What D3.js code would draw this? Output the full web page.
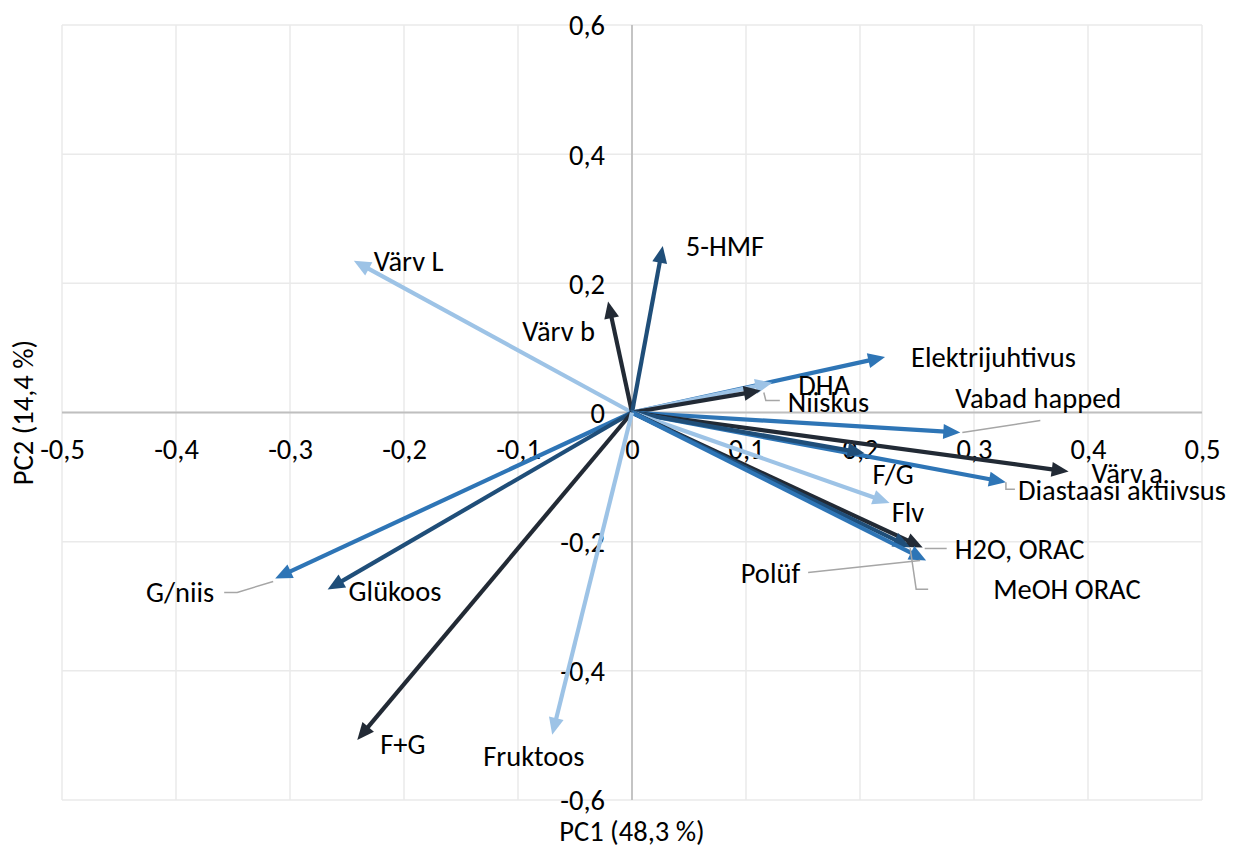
<!DOCTYPE html>
<html>
<head>
<meta charset="utf-8">
<script src="https://cdn.jsdelivr.net/npm/d3@7"></script>
<style>
  html, body { margin: 0; padding: 0; background: #fff; }
  svg { display: block; }
  text { font-family: Carlito, Calibri, Lato, sans-serif; fill: #000; }
</style>
</head>
<body>
<svg id="chart" width="1244" height="847"></svg>
<script>
// ---- data ----
const variables = ["Värv L","Värv b","5-HMF","Elektrijuhtivus","DHA","Niiskus","Vabad happed","Värv a","Diastaasi aktiivsus","F/G","Flv","H2O, ORAC","MeOH ORAC","Polüf","G/niis","Glükoos","F+G","Fruktoos"];
const pc1 = [-0.244,-0.021,0.027,0.222,0.123,0.113,0.288,0.383,0.328,0.204,0.226,0.255,0.244,0.258,-0.313,-0.267,-0.241,-0.070];
const pc2 = [0.235,0.172,0.258,0.086,0.046,0.034,-0.031,-0.0915,-0.108,-0.063,-0.140,-0.209,-0.2085,-0.229,-0.257,-0.274,-0.507,-0.499];
const shadeIndex = [0,3,2,1,0,3,1,3,1,2,0,3,2,1,1,2,3,0];
const xTicks = [-0.5,-0.4,-0.3,-0.2,-0.1,0,0.1,0.2,0.3,0.4,0.5];
const xTickLabels = ["-0,5","-0,4","-0,3","-0,2","-0,1","0","0,1","0,2","0,3","0,4","0,5"];
const yTicks = [-0.6,-0.4,-0.2,0,0.2,0.4,0.6];
const yTickLabels = ["-0,6","-0,4","-0,2","0","0,2","0,4","0,6"];
const xTitle = "PC1 (48,3 %)";
const yTitle = "PC2 (14,4 %)";

// ---- style / layout ----
const palette = ["#9DC3E6","#2E75B6","#1F4E79","#222A35"];
const FONT = 28.5;
const FAMILY = "Carlito, Calibri, Lato, sans-serif";
// label placement relative to arrow tip (pixels): [dx, dy, anchor]
const labelLayout = [
  [20,0,"start"],[-13,30,"end"],[23,0,"start"],[26,0,"start"],[26,2,"start"],[27,11,"start"],
  [-5,-34,"start"],[23,1,"start"],[12,8,"start"],[8,21,"start"],[2,9,"start"],[32,2,"start"],
  [83,42,"start"],[-126,13,"end"],[-61,14,"end"],[21,2,"start"],[23,4,"start"],[-69,21,"start"]
];
// leader lines (relative to tip, pixels), null if none
const leaders = [
  null,null,null,null,null,[[3,2],[5,10],[19,10]],
  [[2,0],[80,-12]],null,[[0,0],[0,7],[9,7]],null,null,[[2,1],[24,1]],
  [[0,1],[6,42],[18,42]],[[-6,0],[-118,12]],[[-2,3],[-38,14],[-51,14]],null,null,null
];

const svg = d3.select("#chart");
const x = d3.scaleLinear().domain([-0.5,0.5]).range([62,1202]);
const y = d3.scaleLinear().domain([-0.6,0.6]).range([800,25]);

// gridlines
const grid = svg.append("g");
grid.selectAll("line.v").data(xTicks).join("line")
  .attr("x1", d => x(d)).attr("x2", d => x(d))
  .attr("y1", y(0.6)).attr("y2", y(-0.6))
  .attr("stroke", "#EAEAEA").attr("stroke-width", 1.5);
grid.selectAll("line.h").data(yTicks).join("line")
  .attr("x1", x(-0.5)).attr("x2", x(0.5))
  .attr("y1", d => y(d)).attr("y2", d => y(d))
  .attr("stroke", "#EAEAEA").attr("stroke-width", 1.5);

// axis lines through zero
svg.append("line").attr("x1", x(-0.5)).attr("x2", x(0.5)).attr("y1", y(0)).attr("y2", y(0))
  .attr("stroke", "#BFBFBF").attr("stroke-width", 1.8);
svg.append("line").attr("x1", x(0)).attr("x2", x(0)).attr("y1", y(0.6)).attr("y2", y(-0.6))
  .attr("stroke", "#BFBFBF").attr("stroke-width", 1.8);

// axes (labels)
const xAxis = svg.append("g").attr("transform", `translate(0,${y(0)})`)
  .call(d3.axisBottom(x).tickValues(xTicks).tickFormat((d,i) => xTickLabels[i]).tickSize(0));
xAxis.select(".domain").remove();
xAxis.selectAll("text").attr("y", 37).attr("dy", "0.35em")
  .style("font-size", FONT + "px").style("font-family", FAMILY).attr("fill", "#000");

const yAxis = svg.append("g").attr("transform", `translate(${x(0)},0)`)
  .call(d3.axisLeft(y).tickValues(yTicks).tickFormat((d,i) => yTickLabels[i]).tickSize(0));
yAxis.select(".domain").remove();
yAxis.selectAll("text").attr("x", -27).attr("dy", "0.35em")
  .style("font-size", FONT + "px").style("font-family", FAMILY).attr("fill", "#000");

// arrows
const data = variables.map((name, i) => ({name, px: pc1[i], py: pc2[i], c: palette[shadeIndex[i]], i}));
const HEAD_L = 17, HEAD_W = 7.5;
const arrows = svg.append("g");
data.forEach(d => {
  const x0 = x(0), y0 = y(0), x1 = x(d.px), y1 = y(d.py);
  const dx = x1 - x0, dy = y1 - y0, len = Math.hypot(dx, dy);
  const ux = dx / len, uy = dy / len;
  const bx = x1 - ux * HEAD_L, by = y1 - uy * HEAD_L;
  arrows.append("line").attr("x1", x0).attr("y1", y0).attr("x2", bx + ux*2).attr("y2", by + uy*2)
    .attr("stroke", d.c).attr("stroke-width", 4.2);
  arrows.append("path")
    .attr("d", `M${x1},${y1}L${bx - uy*HEAD_W},${by + ux*HEAD_W}L${bx + uy*HEAD_W},${by - ux*HEAD_W}Z`)
    .attr("fill", d.c);
});

// leader lines
const lg = svg.append("g");
data.forEach(d => {
  const L = leaders[d.i];
  if (!L) return;
  const tx = x(d.px), ty = y(d.py);
  lg.append("path").attr("d", d3.line()(L.map(p => [tx + p[0], ty + p[1]])))
    .attr("fill", "none").attr("stroke", "#A6A6A6").attr("stroke-width", 1.5);
});

// labels
const lab = svg.append("g");
data.forEach(d => {
  const [ldx, ldy, anchor] = labelLayout[d.i];
  lab.append("text").attr("x", x(d.px) + ldx).attr("y", y(d.py) + ldy)
    .attr("dy", "0.35em").attr("text-anchor", anchor)
    .style("font-size", FONT + "px").style("font-family", FAMILY).text(d.name);
});

// axis titles
svg.append("text").attr("x", x(0)).attr("y", 831).attr("dy", "0.35em")
  .attr("text-anchor", "middle").style("font-size", FONT + "px").style("font-family", FAMILY).text(xTitle);
svg.append("text").attr("transform", `translate(23,${y(0)}) rotate(-90)`).attr("dy", "0.35em")
  .attr("text-anchor", "middle").style("font-size", FONT + "px").style("font-family", FAMILY).text(yTitle);
</script>
</body>
</html>
